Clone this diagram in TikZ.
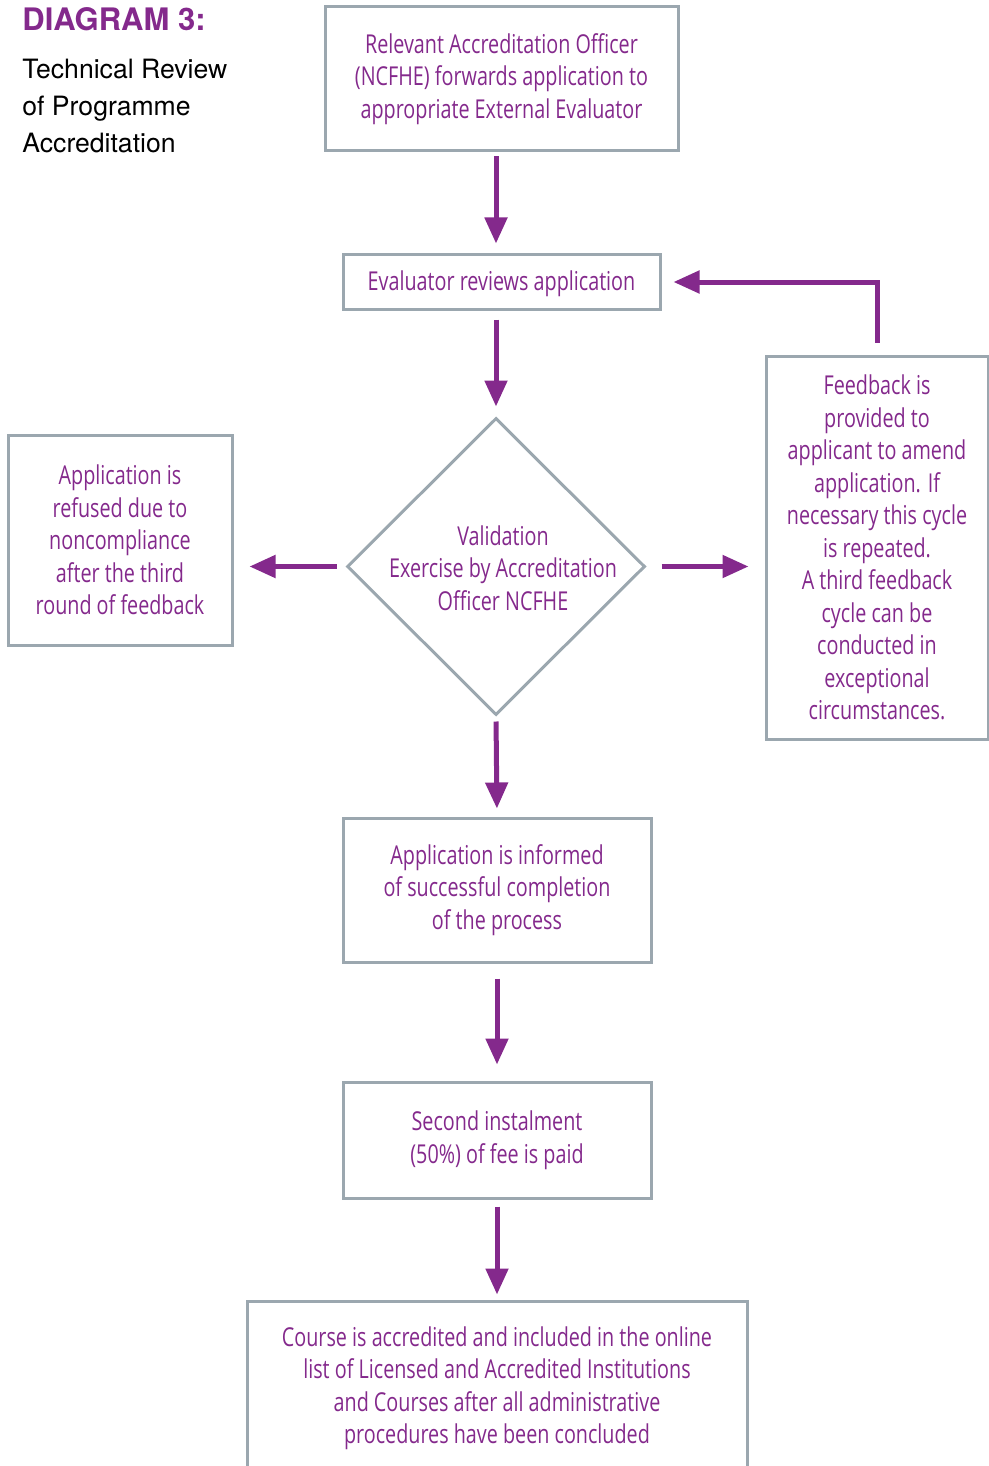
\documentclass[tikz,border=0pt]{standalone}
\usepackage{fontspec}
\usetikzlibrary{shapes.geometric,arrows.meta}
\setmainfont{TeX Gyre Heros}
\newfontfamily\boxfont[FakeStretch=0.76]{Open Sans}
\definecolor{plum}{RGB}{132,41,140}
\definecolor{frame}{RGB}{155,167,175}

\begin{document}
\begin{tikzpicture}[x=0.5pt, y=-0.5pt,
    txt/.style = {align=center, text=plum, inner sep=0pt, font=\boxfont\fontsize{13}{16.25}\selectfont},
    main/.style = {txt, draw=frame, line width=1.5pt},
    flow/.style = {draw=plum, line width=2.5pt, -{Triangle[length=13pt,width=11pt]}}]
    \clip (0,0) rectangle (989,1466);
    \node[anchor=base west, text=plum, inner sep=0pt, font=\bfseries\fontsize{15.5}{18}\selectfont] (t) at (22,31) {DIAGRAM 3:};
    \node[anchor=north west, align=left, inner sep=0pt, font=\fontsize{13.3}{18.5}\selectfont] (s) at (22,59) {Technical Review\\of Programme\\Accreditation};
    \node[main, minimum width=176.5pt, minimum height=72pt] (1) at (501.5,79) {Relevant Accreditation Officer\\(NCFHE) forwards application to\\appropriate External Evaluator};
    \node[main, minimum width=158.5pt, minimum height=27pt, text depth=1pt] (2) at (501.5,282) {Evaluator reviews application};
    \node[main, diamond, minimum width=149pt, minimum height=148.5pt] (3) at (496,566.5) {};
    \node[txt] (3t) at (503,568) {Validation\\Exercise by Accreditation\\Officer NCFHE};
    \node[main, minimum width=112pt, minimum height=105pt] (4) at (120,540) {Application is\\refused due to\\noncompliance\\after the third\\round of feedback};
    \node[main, minimum width=111pt, minimum height=191.5pt] (5) at (877,547.5) {Feedback is\\provided to\\applicant to amend\\application. If\\necessary this cycle\\is repeated.\\A third feedback\\cycle can be\\conducted in\\exceptional\\circumstances.};
    \node[main, minimum width=154pt, minimum height=72pt] (6) at (497,890) {Application is informed\\of successful completion\\of the process};
    \node[main, minimum width=154pt, minimum height=58pt] (7) at (497,1140) {Second instalment\\(50\%) of fee is paid};
    \node[main, minimum width=250pt, minimum height=87pt] (8) at (497,1388) {Course is accredited and included in the online\\list of Licensed and Accredited Institutions\\and Courses after all administrative\\procedures have been concluded};
    \draw[flow, shorten <=2pt, shorten >=5pt] (1.south -| 3.north) -- (2.north -| 3.north);
    \draw[flow, shorten <=4.5pt, shorten >=5pt] (2.south -| 3.north) -- (3.north);
    \draw[flow, shorten <=4.5pt, shorten >=8pt] (3.west) -- (4.east |- 3.west);
    \draw[flow, shorten <=7.5pt, shorten >=8pt] (3.east) -- (5.west |- 3.east);
    \draw[flow, shorten <=6pt, shorten >=6pt] (5.north) |- (2.east);
    \draw[flow, shorten <=2.5pt, shorten >=4pt] (3.south) -- (6.north);
    \draw[flow, shorten <=7.5pt, shorten >=8pt] (6.south) -- (7.north);
    \draw[flow, shorten <=3.5pt, shorten >=2.5pt] (7.south) -- (8.north);
\end{tikzpicture}
\end{document}
